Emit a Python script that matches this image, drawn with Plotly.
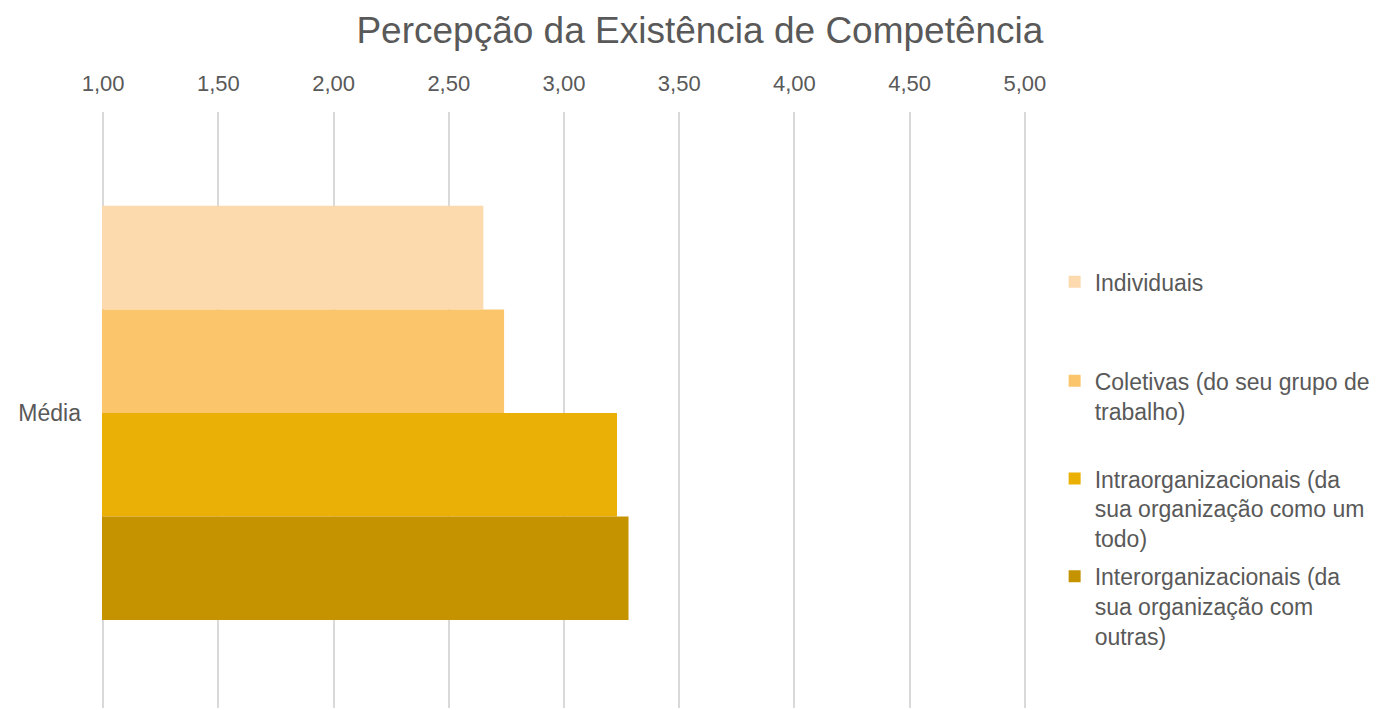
import plotly.graph_objects as go

categories = ["Média"]
series_names = [
    "Individuais",
    "Coletivas (do seu grupo de<br>trabalho)",
    "Intraorganizacionais (da<br>sua organização como um<br>todo)",
    "Interorganizacionais (da<br>sua organização com<br>outras)",
]
series_values = [[2.65], [2.74], [3.23], [3.28]]
colors = ["#FCDAAD", "#FAC56B", "#EBB005", "#C59300"]
tick_vals = [1.0, 1.5, 2.0, 2.5, 3.0, 3.5, 4.0, 4.5, 5.0]

TXT = "#595959"
FONT = "Liberation Sans, Arial, sans-serif"

fig = go.Figure()
legend_ids = ["legend", "legend2", "legend3", "legend4"]
legend_y = [0.751, 0.585, 0.421, 0.257]
for name, vals, col, lid in zip(series_names, series_values, colors, legend_ids):
    fig.add_trace(go.Bar(
        y=categories, x=vals, name=name, orientation="h",
        marker=dict(color=col, line=dict(width=0)),
        legend=lid,
    ))

layout_legends = {}
for lid, ly in zip(legend_ids, legend_y):
    layout_legends[lid] = dict(
        x=1.031, xanchor="left", y=ly, yanchor="top",
        font=dict(family=FONT, size=23, color=TXT),
        valign="top", bgcolor="rgba(0,0,0,0)", borderwidth=0,
        itemclick=False, itemdoubleclick=False,
    )

fig.update_layout(
    width=1386, height=710,
    margin=dict(l=102, r=360, t=112, b=2, autoexpand=False),
    paper_bgcolor="white", plot_bgcolor="white",
    separators=",.",
    title=dict(text="Percepção da Existência de Competência", x=0.505, xanchor="center",
               y=0.958, yanchor="middle",
               font=dict(family=FONT, size=37, color=TXT)),
    barmode="group", bargap=0.305, bargroupgap=0,
    showlegend=True,
    xaxis=dict(side="top", range=[0.995, 5.005], tickvals=tick_vals, tickformat=".2f",
               showgrid=True, gridcolor="#D9D9D9", gridwidth=2, automargin=False,
               zeroline=False, showline=False, ticks="",
               tickfont=dict(family=FONT, size=22, color=TXT), ticklabelstandoff=16),
    yaxis=dict(range=[0.495, -0.505], showgrid=False, zeroline=False, showline=False,
               automargin=False,
               ticks="", tickfont=dict(family=FONT, size=23, color=TXT), ticklabelstandoff=20),
    **layout_legends,
)

fig.write_html("out.html", config={"displayModeBar": False},
               post_script="document.body.style.margin='0';document.body.style.overflow='hidden';")
